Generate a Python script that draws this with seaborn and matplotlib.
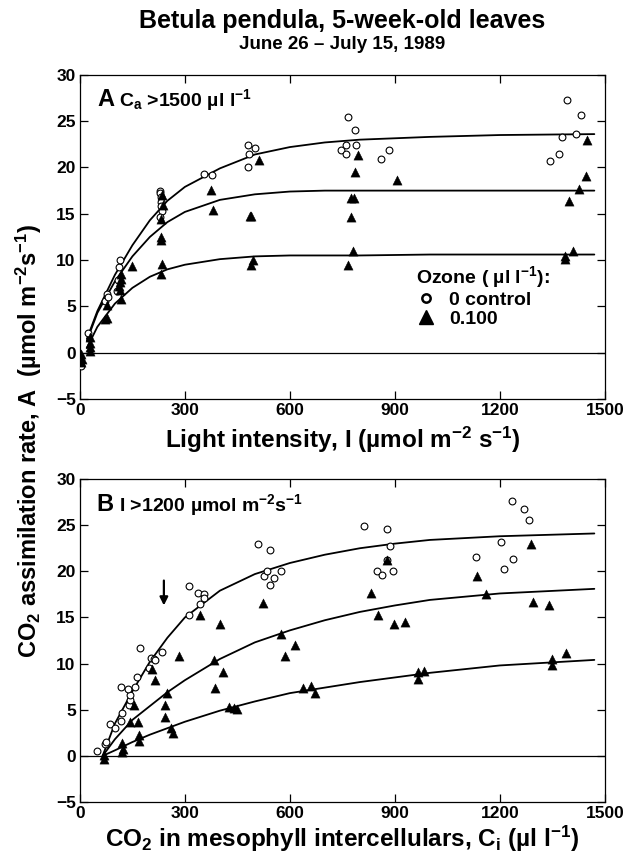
import matplotlib
matplotlib.use("Agg")
import matplotlib.pyplot as plt
import pandas as pd
import seaborn as sns
from matplotlib.lines import Line2D

# Panel A: assimilation vs light (Ca > 1500 ul/l)
light_ctrl = [0, 3, 24, 72, 77, 80, 106, 110, 113, 115, 228, 230, 231, 232, 233, 234, 230,
              355, 378, 480, 499, 483, 480, 745, 759, 759, 766, 787, 790, 860, 884,
              1342, 1370, 1379, 1391, 1419, 1431]
a_light_ctrl = [-0.5, -1.4, 2.1, 5.6, 6.3, 6.0, 6.7, 7.8, 9.2, 10.0, 17.5, 17.2, 16.8, 16.3, 15.8, 15.3, 14.7,
                19.3, 19.2, 22.4, 22.1, 21.4, 20.1, 21.9, 22.4, 21.4, 25.5, 24.0, 22.4, 20.9, 21.9,
                20.7, 21.4, 23.3, 27.3, 23.6, 25.7]
light_o3 = [2, 5, 3, 29, 29, 29, 29, 72, 77, 77, 113, 115, 117, 117, 115, 117, 149,
            231, 231, 233, 231, 236, 238, 236, 375, 381, 485, 490, 490, 494, 511,
            767, 774, 775, 780, 783, 785, 795, 907, 1387, 1387, 1397, 1408, 1427, 1445, 1450]
a_light_o3 = [-0.1, -0.7, -1.0, 1.7, 1.1, 0.6, 0.2, 3.6, 5.1, 3.8, 7.2, 7.6, 8.0, 8.5, 6.8, 5.8, 9.4,
              8.5, 12.5, 12.2, 14.4, 9.6, 15.9, 17.0, 17.6, 15.4, 14.8, 14.8, 9.5, 10.0, 20.8,
              9.5, 14.6, 16.7, 11.0, 16.7, 19.5, 21.3, 18.6, 10.1, 10.4, 16.4, 11.0, 17.7, 19.1, 23.0]

# fitted curves
fit_light_x = [20, 50, 100, 150, 200, 250, 300, 400, 500, 600, 700, 800, 1000, 1200, 1470]
fit_light_ctrl = [1.5, 4.5, 8.4, 11.6, 14.3, 16.4, 17.9, 19.9, 21.4, 22.2, 22.7, 23.0, 23.3, 23.5, 23.6]
fit_light_mid = [1.3, 4.3, 7.7, 10.4, 12.5, 14.1, 15.2, 16.5, 17.1, 17.4, 17.5, 17.5, 17.5, 17.5, 17.5]
fit_light_low = [0.5, 2.8, 5.3, 7.0, 8.2, 9.0, 9.5, 10.1, 10.4, 10.5, 10.5, 10.5, 10.6, 10.6, 10.6]

# Panel B: assimilation vs intercellular CO2 (I > 1200)
ci_ctrl = [49, 72, 75, 87, 99, 118, 121, 118, 140, 142, 142, 137, 158, 164, 173, 197, 204, 212, 216, 236,
           312, 312, 338, 343, 355, 355, 508, 527, 535, 544, 544, 554, 575,
           811, 848, 862, 877, 877, 886, 895, 1132, 1202, 1211, 1236, 1238, 1268, 1284]
a_ci_ctrl = [0.5, 1.3, 1.5, 3.5, 3.0, 7.5, 4.7, 3.8, 5.5, 6.1, 6.6, 7.2, 7.5, 8.6, 11.7, 9.5, 10.6, 10.5, 10.4, 11.3,
             18.4, 15.3, 17.7, 16.5, 17.5, 17.1, 23.0, 19.5, 20.0, 22.3, 18.5, 19.3, 20.0,
             24.9, 20.0, 19.6, 24.6, 21.2, 22.7, 20.0, 21.6, 23.2, 20.3, 27.6, 21.3, 26.8, 25.6]
ci_o3 = [68, 70, 121, 123, 121, 142, 154, 166, 168, 170, 207, 216, 242, 242, 250, 260, 265, 283,
         343, 384, 386, 400, 409, 427, 439, 450, 523, 575, 587, 616, 638, 661, 673,
         832, 853, 877, 898, 928, 967, 967, 984, 1134, 1161, 1289, 1294, 1341, 1348, 1348, 1388]
a_ci_o3 = [0.1, -0.3, 1.4, 0.8, 0.4, 3.7, 5.5, 3.7, 2.3, 1.6, 9.4, 8.2, 5.5, 4.2, 6.8, 3.0, 2.5, 10.8,
           15.3, 10.4, 7.4, 14.3, 9.1, 5.3, 5.2, 5.1, 16.6, 13.2, 10.8, 12.0, 7.4, 7.6, 6.8,
           17.6, 15.3, 21.2, 14.3, 14.5, 9.1, 8.3, 9.2, 19.5, 17.5, 23.0, 16.7, 16.4, 10.5, 9.8, 11.2]

fit_ci_x = [65, 100, 150, 200, 250, 300, 400, 500, 600, 700, 800, 900, 1000, 1200, 1470]
fit_ci_ctrl = [0.0, 3.5, 7.0, 10.2, 12.8, 15.0, 17.9, 19.7, 20.9, 21.8, 22.5, 23.0, 23.4, 23.8, 24.1]
fit_ci_mid = [0.0, 1.8, 3.9, 5.4, 6.9, 8.2, 10.5, 12.3, 13.6, 14.7, 15.6, 16.3, 16.9, 17.6, 18.1]
fit_ci_low = [0.0, 0.6, 1.5, 2.3, 3.0, 3.7, 4.9, 5.9, 6.8, 7.4, 8.0, 8.5, 9.0, 9.8, 10.4]

arrow_ci = 240
arrow_from, arrow_to = 19.3, 16.0

sns.set_style("ticks")
plt.rcParams["font.family"] = ["Liberation Sans", "DejaVu Sans"]
plt.rcParams["font.weight"] = "bold"
plt.rcParams["axes.labelweight"] = "bold"
for key in ["text.color", "axes.labelcolor", "xtick.color", "ytick.color", "axes.edgecolor"]:
    plt.rcParams[key] = "black"
plt.rcParams["mathtext.fontset"] = "custom"
plt.rcParams["mathtext.rm"] = "Liberation Sans:bold"
plt.rcParams["mathtext.it"] = "Liberation Sans:bold"
plt.rcParams["mathtext.bf"] = "Liberation Sans:bold"
plt.rcParams["mathtext.default"] = "rm"


def draw_panel(ax, x_ctrl, y_ctrl, x_o3, y_o3, fit_x, fits):
    for fit in fits:
        sns.lineplot(x=fit_x, y=fit, ax=ax, color="black", linewidth=1.3, sort=False, estimator=None)
    ax.axhline(0, color="black", linewidth=0.9, zorder=1)
    sns.scatterplot(x=x_ctrl, y=y_ctrl, ax=ax, marker="o", s=24, facecolor="white",
                    edgecolor="black", linewidth=0.8, zorder=3)
    sns.scatterplot(x=x_o3, y=y_o3, ax=ax, marker="^", s=44, color="black",
                    edgecolor="black", linewidth=0.3, zorder=4)
    ax.set_xlim(0, 1500)
    ax.set_ylim(-5, 30)
    ax.set_xticks(range(0, 1501, 300))
    ax.set_yticks(range(-5, 31, 5))
    ax.tick_params(direction="in", top=True, right=True, length=6, width=0.9, labelsize=12.5, pad=3)
    for side in ax.spines.values():
        side.set_linewidth(0.9)
    ax.set_ylabel("")


fig = plt.figure(figsize=(6.34, 8.6), dpi=100)
ax_a = fig.add_axes([0.126, 0.536, 0.828, 0.377])
ax_b = fig.add_axes([0.126, 0.0674, 0.828, 0.3756])

draw_panel(ax_a, light_ctrl, a_light_ctrl, light_o3, a_light_o3, fit_light_x,
           [fit_light_ctrl, fit_light_mid, fit_light_low])
draw_panel(ax_b, ci_ctrl, a_ci_ctrl, ci_o3, a_ci_o3, fit_ci_x,
           [fit_ci_ctrl, fit_ci_mid, fit_ci_low])

ax_a.set_xlabel("Light intensity, I (µmol m$^{-2}$ s$^{-1}$)", fontsize=17.5, labelpad=5)
ax_b.set_xlabel("CO$_2$ in mesophyll intercellulars, C$_i$ (µl l$^{-1}$)", fontsize=17.5, labelpad=2)

ax_a.text(0.034, 0.905, "A", transform=ax_a.transAxes, fontsize=17, va="baseline")
ax_a.text(0.075, 0.905, "C$_a$ >1500 µl l$^{-1}$", transform=ax_a.transAxes, fontsize=14, va="baseline")
ax_b.text(0.032, 0.902, "B", transform=ax_b.transAxes, fontsize=17, va="baseline")
ax_b.text(0.075, 0.902, "I >1200 µmol m$^{-2}$s$^{-1}$", transform=ax_b.transAxes, fontsize=14, va="baseline")

ax_b.annotate("", xy=(arrow_ci, arrow_to), xytext=(arrow_ci, arrow_from),
              arrowprops=dict(arrowstyle="-|>", color="black", lw=1.6, mutation_scale=12))

handles = [Line2D([], [], marker="o", linestyle="", markerfacecolor="white", markeredgecolor="black",
                  markersize=6, markeredgewidth=1.8),
           Line2D([], [], marker="^", linestyle="", color="black", markersize=10)]
ax_a.legend(handles, ["0 control", "0.100"], title="Ozone ( µl l$^{-1}$):", loc="upper left",
            bbox_to_anchor=(0.64, 0.415), frameon=False, fontsize=14,
            title_fontproperties={"weight": "bold", "size": 14}, alignment="left",
            handletextpad=0.7, borderaxespad=0, labelspacing=0.05, handlelength=1.0, borderpad=0)

fig.text(0.54, 0.976, "Betula pendula, 5-week-old leaves", ha="center", va="center", fontsize=18)
fig.text(0.54, 0.948, "June 26 – July 15, 1989", ha="center", va="center", fontsize=13.5)
fig.text(0.045, 0.487, "CO$_2$ assimilation rate, A  (µmol m$^{-2}$s$^{-1}$)", rotation=90,
         ha="center", va="center", fontsize=17)

fig.savefig("out.png", dpi=100)
plt.close(fig)
